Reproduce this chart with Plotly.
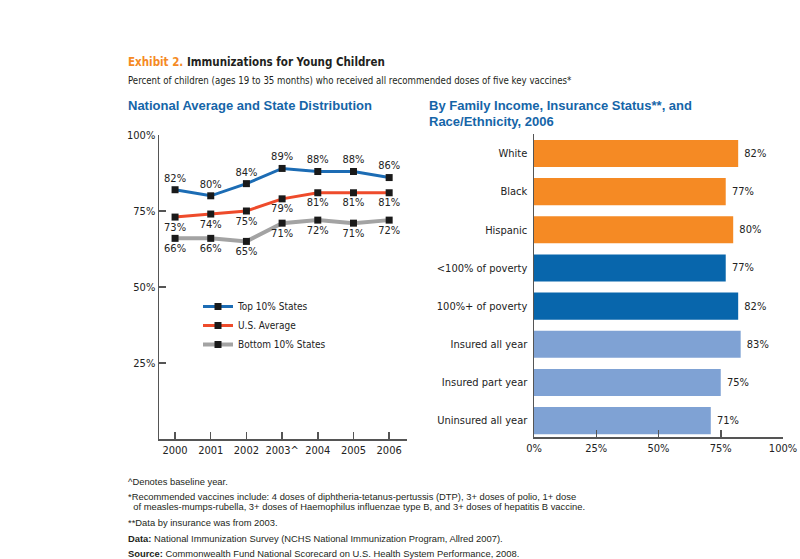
import plotly.graph_objects as go

years = ["2000", "2001", "2002", "2003^", "2004", "2005", "2006"]
top10 = [82, 80, 84, 89, 88, 88, 86]
us_avg = [73, 74, 75, 79, 81, 81, 81]
bottom10 = [66, 66, 65, 71, 72, 71, 72]

groups = ["White", "Black", "Hispanic", "<100% of poverty", "100%+ of poverty",
          "Insured all year", "Insured part year", "Uninsured all year"]
group_vals = [82, 77, 80, 77, 82, 83, 75, 71]
group_colors = ["#F58A24", "#F58A24", "#F58A24", "#0866AC", "#0866AC",
                "#7FA2D4", "#7FA2D4", "#7FA2D4"]

pct_ticks = [25, 50, 75, 100]
pct_tick_text = ["25%", "50%", "75%", "100%"]
bar_ticks = [0, 25, 50, 75, 100]
bar_tick_text = ["0%", "25%", "50%", "75%", "100%"]

NARROW = "DejaVu Sans Condensed, Liberation Sans Narrow, Arial Narrow, sans-serif"
SANS = "Liberation Sans, Arial, sans-serif"
W, H = 800, 559

def px(x):
    return x / W

def py(y):
    return 1 - y / H

fig = go.Figure()

line_specs = [
    ("Top 10% States", top10, "#1C6CB4", 3, "top center"),
    ("U.S. Average", us_avg, "#EE4B2B", 3, "bottom center"),
    ("Bottom 10% States", bottom10, "#A3A3A3", 4, "bottom center"),
]
for name, vals, col, w, tp in line_specs:
    fig.add_trace(go.Scatter(
        x=years, y=vals, name=name, mode="lines+markers+text",
        line=dict(color=col, width=w),
        marker=dict(symbol="square", size=7, color="#1a1a1a"),
        text=[f"{v}%" for v in vals], textposition=tp,
        textfont=dict(family=NARROW, size=11, color="#222"),
        xaxis="x", yaxis="y", cliponaxis=False,
    ))

fig.add_trace(go.Bar(
    x=group_vals, y=groups, orientation="h",
    marker=dict(color=group_colors, line=dict(width=0)),
    width=0.71,
    text=[f" {v}%" for v in group_vals], textposition="outside",
    textfont=dict(family=NARROW, size=11, color="#222"),
    cliponaxis=False, showlegend=False,
    xaxis="x2", yaxis="y2",
))

axis_line = dict(showline=True, linecolor="#555", linewidth=1.5, showgrid=False,
                 zeroline=False, ticks="inside", tickcolor="#555", tickwidth=1.5,
                 ticklen=7, automargin=False,
                 tickfont=dict(family=NARROW, size=11, color="#222"))

fig.update_layout(
    width=W, height=H, margin=dict(l=0, r=0, t=0, b=0, autoexpand=False),
    paper_bgcolor="white", plot_bgcolor="white",
    xaxis=dict(domain=[px(159), px(407)], range=[-0.45, 6.5], type="category",
               anchor="y", tickangle=0, **axis_line),
    yaxis=dict(domain=[py(439), py(135)], range=[0, 100], tickvals=pct_ticks,
               ticktext=pct_tick_text, anchor="x", **axis_line),
    xaxis2=dict(domain=[px(534), px(783)], range=[0, 100], tickvals=bar_ticks,
                ticktext=bar_tick_text, anchor="y2", tickangle=0, **axis_line),
    yaxis2=dict(domain=[py(437), py(134)], range=[7.43, -0.51], anchor="x2",
                showline=True, linecolor="#555", linewidth=1.5, showgrid=False,
                zeroline=False, ticks="", ticklabelstandoff=3, automargin=False,
                tickfont=dict(family=NARROW, size=11, color="#222")),
    showlegend=True,
    legend=dict(x=px(198), y=py(292), xanchor="left", yanchor="top",
                bgcolor="rgba(0,0,0,0)", itemwidth=30, tracegroupgap=0,
                font=dict(family=NARROW, size=10, color="#222")),
)

annotations = [
    dict(x=px(126), y=py(62), text="<b><span style='color:#F58A24'>Exhibit 2.</span> Immunizations for Young Children</b>",
         font=dict(family=NARROW, size=11.5, color="#231F20")),
    dict(x=px(126), y=py(80), text="Percent of children (ages 19 to 35 months) who received all recommended doses of five key vaccines*",
         font=dict(family=NARROW, size=9.6, color="#231F20")),
    dict(x=px(126), y=py(105), text="<b>National Average and State Distribution</b>",
         font=dict(family=SANS, size=13, color="#1565A8")),
    dict(x=px(427), y=py(105), text="<b>By Family Income, Insurance Status**, and</b>",
         font=dict(family=SANS, size=13, color="#1565A8")),
    dict(x=px(427), y=py(122), text="<b>Race/Ethnicity, 2006</b>",
         font=dict(family=SANS, size=13, color="#1565A8")),
]
foot = [
    (481, "^Denotes baseline year."),
    (496, "*Recommended vaccines include: 4 doses of diphtheria-tetanus-pertussis (DTP), 3+ doses of polio, 1+ dose"),
    (507, "  of measles-mumps-rubella, 3+ doses of Haemophilus influenzae type B, and 3+ doses of hepatitis B vaccine."),
    (522, "**Data by insurance was from 2003."),
    (538, "<b>Data:</b> National Immunization Survey (NCHS National Immunization Program, Allred 2007)."),
    (553, "<b>Source:</b> Commonwealth Fund National Scorecard on U.S. Health System Performance, 2008."),
]
for y, t in foot:
    annotations.append(dict(x=px(126), y=py(y), text=t,
                            font=dict(family=SANS, size=9.4, color="#231F20")))
for a in annotations:
    a.update(xref="paper", yref="paper", xanchor="left", yanchor="middle",
             showarrow=False, align="left")
fig.update_layout(annotations=annotations)

fig.write_html(
    "out.html",
    config={"displayModeBar": False, "staticPlot": True},
    post_script="document.body.style.margin='0';document.body.style.overflow='hidden';",
)
